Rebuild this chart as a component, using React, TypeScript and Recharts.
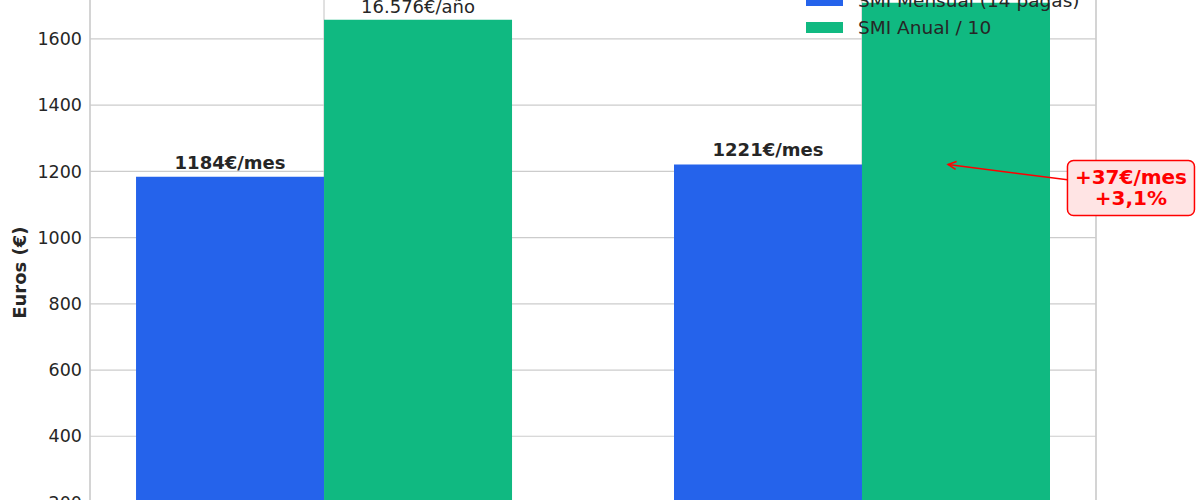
import React from 'react';
import {
  BarChart,
  Bar,
  XAxis,
  YAxis,
  CartesianGrid,
  Legend,
  LabelList,
  ReferenceLine,
  ReferenceDot,
} from 'recharts';

// SMI 2025 vs propuesta 2026
const categories = ['SMI 2025', 'SMI 2026 (propuesta)'];
const seriesNames = ['SMI Mensual (14 pagas)', 'SMI Anual / 10'];
const smiMensual = [1184, 1221];
const smiAnualDiv10 = [1657.6, 1709.4];
const mensualLabels = ['1184€/mes', '1221€/mes'];
const anualLabels = ['16.576€/año', '17.094€/año'];
const yTicks = [0, 200, 400, 600, 800, 1000, 1200, 1400, 1600, 1800];
const annotationLines = ['+37€/mes', '+3,1%'];

const BLUE = '#2563eb';
const GREEN = '#10b981';
const TEXT = '#262626';
const GRID = '#cccccc';

const data = categories.map((name, i) => ({
  x: i,
  name,
  mensual: smiMensual[i],
  anual: smiAnualDiv10[i],
  mensualLabel: mensualLabels[i],
  anualLabel: anualLabels[i],
}));

// annotation: arrow from the text box to the 2026 monthly level
const arrowTip = { x: 1.16, y: smiMensual[1] };
const boxCenter = { x: 1.5, y: 1150 };
const BOX_W = 127;
const BOX_H = 55;

const ArrowShape = (props: any) => {
  const { x1, y1, x2, y2 } = props;
  if (x1 == null || x2 == null) return null;
  // start where the line leaves the box (left edge)
  const t = BOX_W / 2 / (x1 - x2);
  const sx = x1 - BOX_W / 2;
  const sy = y1 + t * (y2 - y1);
  const ang = Math.atan2(y2 - sy, x2 - sx);
  const len = 9;
  const spread = Math.PI / 7;
  const ax1 = x2 - len * Math.cos(ang - spread);
  const ay1 = y2 - len * Math.sin(ang - spread);
  const ax2 = x2 - len * Math.cos(ang + spread);
  const ay2 = y2 - len * Math.sin(ang + spread);
  return (
    <g>
      <line x1={sx} y1={sy} x2={x2} y2={y2} stroke="red" strokeWidth={1.5} />
      <polyline
        points={`${ax1},${ay1} ${x2},${y2} ${ax2},${ay2}`}
        fill="none"
        stroke="red"
        strokeWidth={1.5}
      />
    </g>
  );
};

const BoxShape = (props: any) => {
  const { cx, cy } = props;
  if (cx == null || cy == null) return null;
  return (
    <g>
      <rect
        x={cx - BOX_W / 2}
        y={cy - BOX_H / 2}
        width={BOX_W}
        height={BOX_H}
        rx={6}
        ry={6}
        fill="#ffe4e4"
        stroke="red"
        strokeWidth={1.5}
      />
      <text x={cx} y={cy - 4} textAnchor="middle" fill="red" fontSize={20} fontWeight="bold">
        {annotationLines[0]}
      </text>
      <text x={cx} y={cy + 17.5} textAnchor="middle" fill="red" fontSize={20} fontWeight="bold">
        {annotationLines[1]}
      </text>
    </g>
  );
};

const LegendContent = (props: any) => {
  const { payload } = props;
  // keep the plotting order (monthly first)
  const items = [...(payload || [])].sort(
    (a: any, b: any) => seriesNames.indexOf(a.value) - seriesNames.indexOf(b.value)
  );
  return (
    <div>
      {items.map((entry: any) => (
        <div
          key={entry.value}
          style={{ display: 'flex', alignItems: 'center', height: 27.5, whiteSpace: 'nowrap' }}
        >
          <span style={{ width: 37, height: 11, background: entry.color, display: 'inline-block' }} />
          <span style={{ marginLeft: 15, fontSize: 18.5, color: TEXT }}>{entry.value}</span>
        </div>
      ))}
    </div>
  );
};

const YLabel = (props: any) => {
  const { viewBox } = props;
  const cy = viewBox.y + viewBox.height / 2;
  return (
    <text
      x={20}
      y={cy + 2}
      transform={`rotate(-90, 20, ${cy + 2})`}
      textAnchor="middle"
      dominantBaseline="central"
      fontSize={18}
      fontWeight="bold"
      fill={TEXT}
    >
      Euros (€)
    </text>
  );
};

const App: React.FC = () => {
  return (
    <div
      style={{
        position: 'absolute',
        left: 0,
        top: 0,
        width: 1200,
        height: 500,
        overflow: 'hidden',
        background: '#fff',
        fontFamily: 'DejaVu Sans',
      }}
    >
      <div style={{ position: 'absolute', left: 0, top: -100 }}>
        <BarChart
          width={1200}
          height={800}
          data={data}
          margin={{ top: 72.7, right: 104, bottom: 101.3, left: 0 }}
          barGap={0}
          barSize={188}
        >
          <CartesianGrid stroke={GRID} strokeWidth={1.2} />
          <XAxis
            type="number"
            dataKey="x"
            domain={[-0.435, 1.435]}
            ticks={[0, 1]}
            tickFormatter={(v: number) => categories[v]}
            tickLine={false}
            axisLine={{ stroke: GRID }}
            height={30}
            tick={{ fontSize: 17.5, fill: TEXT }}
            allowDataOverflow
          />
          <YAxis
            domain={[0, 1800]}
            ticks={yTicks}
            tickLine={false}
            axisLine={{ stroke: GRID, strokeWidth: 1.2 }}
            width={90}
            tick={{ fontSize: 17.5, fill: TEXT }}
            label={<YLabel />}
          />
          <ReferenceLine x={1.435} stroke={GRID} strokeWidth={1.2} />
          <Legend
            layout="vertical"
            align="center"
            verticalAlign="middle"
            content={<LegendContent />}
            wrapperStyle={{ top: 86.25, left: 806, width: 'auto' }}
          />
          <Bar dataKey="mensual" name={seriesNames[0]} fill={BLUE} isAnimationActive={false}>
            <LabelList
              dataKey="mensualLabel"
              position="top"
              offset={8}
              fill={TEXT}
              fontSize={18}
              fontWeight="bold"
            />
          </Bar>
          <Bar dataKey="anual" name={seriesNames[1]} fill={GREEN} isAnimationActive={false}>
            <LabelList dataKey="anualLabel" position="top" offset={7} fill={TEXT} fontSize={18} />
          </Bar>
          <ReferenceLine
            segment={[boxCenter, arrowTip]}
            ifOverflow="visible"
            shape={<ArrowShape />}
          />
          <ReferenceDot
            x={boxCenter.x}
            y={boxCenter.y}
            ifOverflow="visible"
            shape={<BoxShape />}
          />
        </BarChart>
      </div>
    </div>
  );
};

export default App;
